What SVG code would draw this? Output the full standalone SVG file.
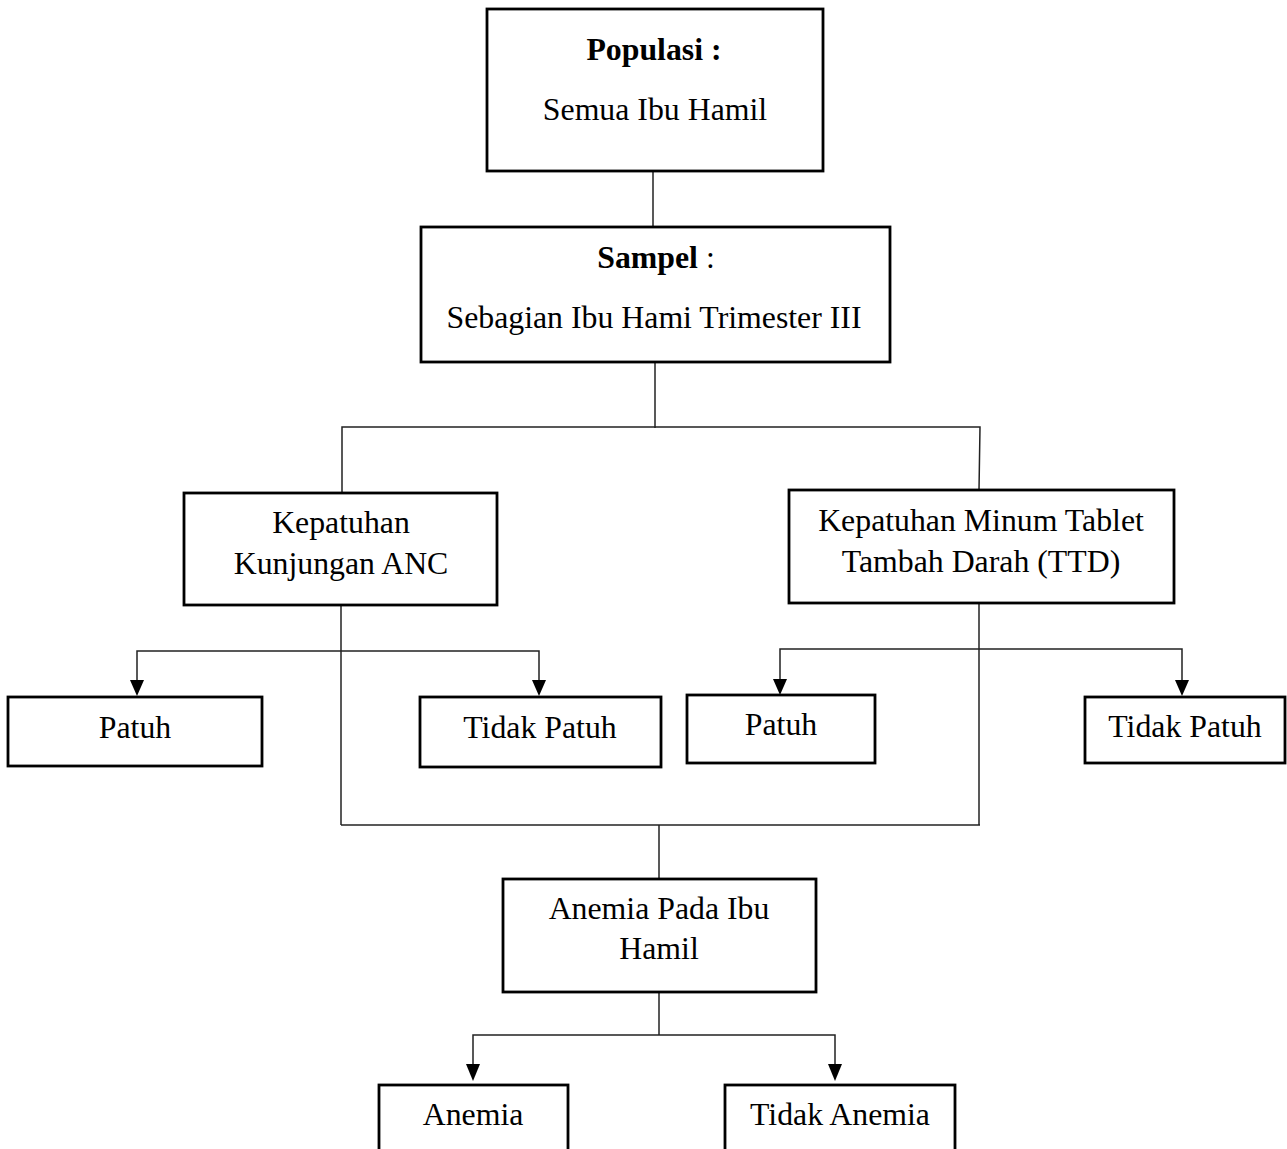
<svg xmlns="http://www.w3.org/2000/svg" width="1287" height="1149" viewBox="0 0 1287 1149">
<style>
.box{fill:#fff;stroke:#000;stroke-width:2.8}
.t{font-family:"Liberation Serif","Times New Roman",serif;font-size:31.8px;fill:#000;text-anchor:middle}
.b{font-weight:bold}
.c{fill:none;stroke:#222;stroke-width:1.5}
</style>
<defs>
<marker id="arr" markerWidth="16" markerHeight="17" refX="8" refY="16" orient="auto" markerUnits="userSpaceOnUse" viewBox="0 0 16 17">
<path d="M0,0 L16,0 L8,16 Z" fill="#000" transform="rotate(-90 8 8)"/>
</marker>
</defs>
<rect width="1287" height="1149" fill="#fff"/>
<g id="connectors">
<line class="c" x1="653" y1="171" x2="653" y2="227"/>
<line class="c" x1="655" y1="362" x2="655" y2="428"/>
<polyline class="c" points="342,492 342,427 980,427 979,490"/>
<line class="c" x1="341" y1="605" x2="341" y2="825"/>
<line class="c" x1="979" y1="603" x2="979" y2="825"/>
<line class="c" x1="341" y1="825" x2="980" y2="825"/>
<line class="c" x1="659" y1="825" x2="659" y2="879"/>
<polyline class="c" points="137,680 137,651 539,651 539,680"/>
<polygon points="130,680 144,680 137,696" fill="#000"/>
<polygon points="532,680 546,680 539,696" fill="#000"/>
<polyline class="c" points="780,679 780,649 1182,649 1182,680"/>
<polygon points="773,679 787,679 780,695" fill="#000"/>
<polygon points="1175,680 1189,680 1182,696" fill="#000"/>
<line class="c" x1="659" y1="992" x2="659" y2="1035"/>
<polyline class="c" points="473,1064 473,1035 835,1035 835,1064"/>
<polygon points="466,1064 480,1064 473,1081" fill="#000"/>
<polygon points="828,1064 842,1064 835,1081" fill="#000"/>
</g>
<g id="populasi">
<rect class="box" x="487" y="9" width="336" height="162"/>
<text class="t b" x="654" y="60">Populasi :</text>
<text class="t" x="655" y="120">Semua Ibu Hamil</text>
</g>
<g id="sampel">
<rect class="box" x="421" y="227" width="469" height="135"/>
<text class="t" x="656" y="268"><tspan class="b">Sampel</tspan> :</text>
<text class="t" x="654" y="328">Sebagian Ibu Hami Trimester III</text>
</g>
<g id="anc">
<rect class="box" x="184" y="493" width="313" height="112"/>
<text class="t" x="341" y="533">Kepatuhan</text>
<text class="t" x="341" y="574">Kunjungan ANC</text>
</g>
<g id="ttd">
<rect class="box" x="789" y="490" width="385" height="113"/>
<text class="t" x="981" y="531">Kepatuhan Minum Tablet</text>
<text class="t" x="981" y="572">Tambah Darah (TTD)</text>
</g>
<g id="anc-patuh">
<rect class="box" x="8" y="697" width="254" height="69"/>
<text class="t" x="135" y="738">Patuh</text>
</g>
<g id="anc-tidak-patuh">
<rect class="box" x="420" y="697" width="241" height="70"/>
<text class="t" x="540" y="738">Tidak Patuh</text>
</g>
<g id="ttd-patuh">
<rect class="box" x="687" y="695" width="188" height="68"/>
<text class="t" x="781" y="735">Patuh</text>
</g>
<g id="ttd-tidak-patuh">
<rect class="box" x="1085" y="697" width="200" height="66"/>
<text class="t" x="1185" y="737">Tidak Patuh</text>
</g>
<g id="anemia-ibu">
<rect class="box" x="503" y="879" width="313" height="113"/>
<text class="t" x="659" y="919">Anemia Pada Ibu</text>
<text class="t" x="659" y="959">Hamil</text>
</g>
<g id="anemia">
<rect class="box" x="379" y="1085" width="189" height="80"/>
<text class="t" x="473" y="1125">Anemia</text>
</g>
<g id="tidak-anemia">
<rect class="box" x="725" y="1085" width="230" height="80"/>
<text class="t" x="840" y="1125">Tidak Anemia</text>
</g>
</svg>
